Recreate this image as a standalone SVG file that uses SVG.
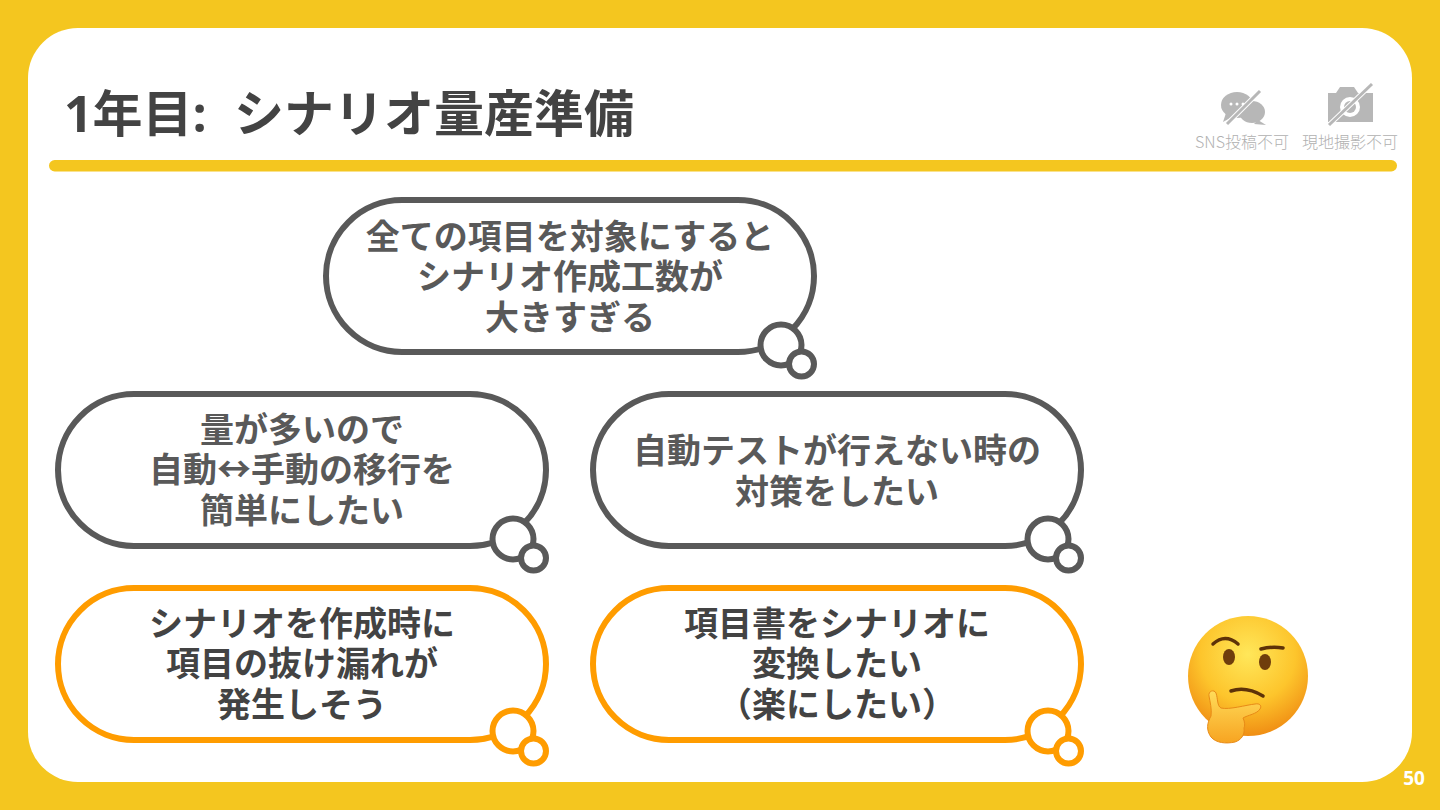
<svg xmlns="http://www.w3.org/2000/svg" width="1440" height="810" viewBox="0 0 1440 810">
<style>
text{font-family:"Open Sans","Noto Sans CJK JP",sans-serif;font-weight:700}
.b{font-size:34px;fill:#595959;text-anchor:middle;font-family:"Noto Sans CJK JP",sans-serif}
.k{font-size:34px;fill:#434343;text-anchor:middle;font-family:"Noto Sans CJK JP",sans-serif}
.g{fill:#fff;stroke:#595959;stroke-width:6}
.o{fill:#fff;stroke:#ff9c00;stroke-width:6}
.n{font-size:16px;font-weight:300;fill:#b0b0b0;text-anchor:middle;font-family:"Noto Sans CJK JP",sans-serif}
.i{fill:#b7b7b7}
.s{stroke:#b7b7b7;stroke-width:3;fill:none}
.l{fill:none;stroke:#5e3208;stroke-width:3.500;stroke-linecap:round}
</style>
<defs>
<radialGradient id="face" cx="0.5" cy="0.32" r="0.72"><stop offset="0" stop-color="#ffe75a"/><stop offset="0.55" stop-color="#fdc52c"/><stop offset="1" stop-color="#ee8610"/></radialGradient>
<linearGradient id="hand" x1="0" y1="0" x2="0" y2="1"><stop offset="0" stop-color="#ffdc5a"/><stop offset="1" stop-color="#f7a421"/></linearGradient>
</defs>
<rect width="1440" height="810" fill="#f4c61f"/>
<rect x="28" y="28" width="1384" height="754" rx="50" fill="#fff"/>
<text x="64" y="132" font-size="50" fill="#434343">1年目:<tspan x="234">シナリオ量産準備</tspan></text>
<rect x="49" y="160" width="1348" height="11.500" rx="5.700" fill="#f4c61f"/>
<g id="icon-sns">
<ellipse cx="1237" cy="105" rx="16" ry="13" class="i"/><path d="M1226 113l-3 9 11-6z" class="i"/>
<ellipse cx="1252" cy="112" rx="13" ry="11" class="i"/><path d="M1258 120l8 5-12-1z" class="i"/>
<circle cx="1231" cy="104" r="1.500" fill="#fff"/><circle cx="1237" cy="104" r="1.500" fill="#fff"/><circle cx="1243" cy="104" r="1.500" fill="#fff"/>
<path d="M1227 124l33-33" stroke="#fff" stroke-width="5"/><path d="M1227 124l33-33" class="s"/>
<text x="1242" y="148" class="n">SNS投稿不可</text>
</g>
<g id="icon-camera">
<path d="M1328 93h8l2-3 2-3h14l4 6h15v29h-45z" class="i"/>
<circle cx="1350" cy="107" r="10" fill="#fff"/><circle cx="1350" cy="107" r="6" class="i"/>
<path d="M1329 125l43-41" stroke="#fff" stroke-width="5"/><path d="M1329 125l43-41" class="s"/>
<text x="1350" y="148" class="n">現地撮影不可</text>
</g>
<g id="bubble-1">
<rect x="326" y="200" width="488" height="152" rx="76" class="g"/><circle cx="781" cy="345" r="20.500" class="g"/><circle cx="801.500" cy="364" r="12.500" class="g"/>
<text x="570" y="249" class="b">全ての項目を対象にすると</text><text x="570" y="289" class="b">シナリオ作成工数が</text><text x="570" y="330" class="b">大きすぎる</text>
</g>
<g id="bubble-2">
<rect x="58" y="394" width="488" height="152" rx="76" class="g"/><circle cx="513" cy="539" r="20.500" class="g"/><circle cx="533.500" cy="558" r="12.500" class="g"/>
<text x="302" y="442" class="b">量が多いので</text><text x="302" y="482" class="b">自動↔手動の移行を</text><text x="302" y="523" class="b">簡単にしたい</text>
</g>
<g id="bubble-3">
<rect x="593" y="394" width="488" height="152" rx="76" class="g"/><circle cx="1048" cy="539" r="20.500" class="g"/><circle cx="1068.500" cy="558" r="12.500" class="g"/>
<text x="837" y="463" class="b">自動テストが行えない時の</text><text x="837" y="504" class="b">対策をしたい</text>
</g>
<g id="bubble-4">
<rect x="58" y="588" width="488" height="152" rx="76" class="o"/><circle cx="513" cy="731" r="20.500" class="o"/><circle cx="533.500" cy="751" r="12.500" class="o"/>
<text x="302" y="636" class="k">シナリオを作成時に</text><text x="302" y="676" class="k">項目の抜け漏れが</text><text x="302" y="717" class="k">発生しそう</text>
</g>
<g id="bubble-5">
<rect x="593" y="588" width="488" height="152" rx="76" class="o"/><circle cx="1048" cy="731" r="20.500" class="o"/><circle cx="1068.500" cy="751" r="12.500" class="o"/>
<text x="837" y="636" class="k">項目書をシナリオに</text><text x="837" y="676" class="k">変換したい</text><text x="837" y="717" class="k">（楽にしたい）</text>
</g>
<g id="emoji">
<circle cx="1248" cy="676" r="60" fill="url(#face)"/>
<path d="M1213 644q12-11 25 0" class="l"/>
<path d="M1261 649q11-3 22-1" class="l"/>
<ellipse cx="1229" cy="657" rx="6" ry="8" fill="#6f3d0c"/><ellipse cx="1265" cy="662" rx="6" ry="8" fill="#6f3d0c"/>
<path d="M1231 691q15-5 32 5" class="l"/>
<path d="M1209 696c-1-5 5-7 7-3 2 6 1 13 5 15 8 2 25-3 34-4 5-1 7 2 5 5-3 5-12 6-17 9 2 4 2 8 1 10 1 7-3 12-9 14-9 2-19 1-24-5-5-7-4-14 0-21 1-7-1-14-2-20z" fill="url(#hand)" stroke="#e88a16" stroke-width="1"/>
</g>
<text x="1414" y="785" font-size="19" fill="#fff" text-anchor="middle">50</text>
</svg>
